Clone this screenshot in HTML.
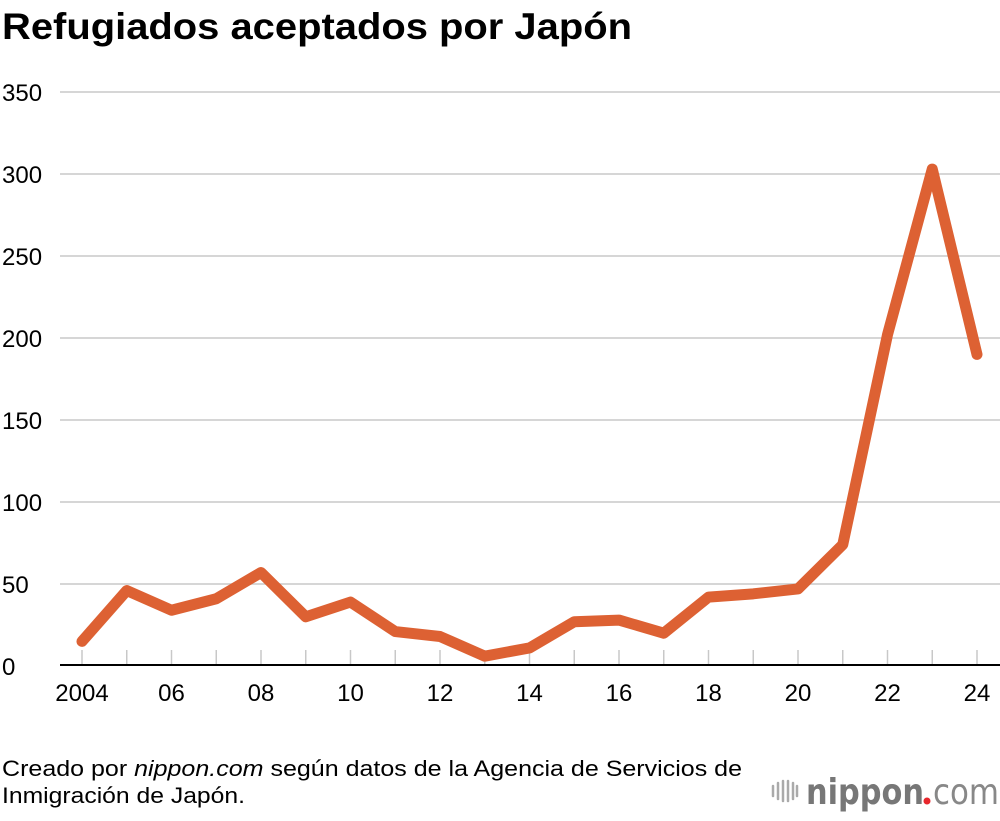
<!DOCTYPE html>
<html><head><meta charset="utf-8"><style>
body{margin:0;background:#fff;width:1000px;height:816px;overflow:hidden;font-family:"Liberation Sans",sans-serif}
</style></head><body>
<svg width="1000" height="816" xmlns="http://www.w3.org/2000/svg" id="svg">
<text x="2" y="39" font-size="37" font-weight="bold" fill="#000" textLength="630" lengthAdjust="spacingAndGlyphs">Refugiados aceptados por Japón</text>
<g id="grid"></g><g id="xaxis"></g>
<path id="line" fill="none" stroke="#dd6133" stroke-width="11" stroke-linejoin="round" stroke-linecap="round"/>
<text x="2" y="776" font-size="22" fill="#000" textLength="740" lengthAdjust="spacingAndGlyphs">Creado por <tspan font-style="italic">nippon.com</tspan> según datos de la Agencia de Servicios de</text>
<text x="2" y="803" font-size="22" fill="#000" textLength="243" lengthAdjust="spacingAndGlyphs">Inmigración de Japón.</text>
<g>
<g stroke="#aaa" stroke-width="2.5" stroke-linecap="round">
<line x1="773" y1="786" x2="773" y2="796"/><line x1="778" y1="783" x2="778" y2="799"/><line x1="783" y1="781" x2="783" y2="801"/><line x1="788" y1="781" x2="788" y2="801"/><line x1="793" y1="783" x2="793" y2="799"/><line x1="797" y1="786" x2="797" y2="796"/></g>
<text x="806" y="804" font-size="36" font-family="DejaVu Sans,sans-serif" font-weight="bold" fill="#777" textLength="118" lengthAdjust="spacingAndGlyphs">nippon</text>
<circle cx="927" cy="801" r="3.5" fill="#e8262c"/>
<text x="933" y="804" font-size="36" font-family="DejaVu Sans,sans-serif" fill="#888" textLength="66" lengthAdjust="spacingAndGlyphs">com</text>
</g>
</svg>
<script>
const years=[2004,2005,2006,2007,2008,2009,2010,2011,2012,2013,2014,2015,2016,2017,2018,2019,2020,2021,2022,2023,2024];
const values=[15,46,34,41,57,30,39,21,18,6,11,27,28,20,42,44,47,74,202,303,190];
const yTicks=[0,50,100,150,200,250,300,350];
const xLabels=["2004","06","08","10","12","14","16","18","20","22","24"];
const ns="http://www.w3.org/2000/svg";
const X=y=>82+(y-2004)*(977-82)/20;
const Y=v=>666-v*(666-92)/350;
function mk(t,a,p,txt){const e=document.createElementNS(ns,t);for(const k in a)e.setAttribute(k,a[k]);if(txt!=null)e.textContent=txt;p.appendChild(e);return e;}
const g=document.getElementById('grid'),xa=document.getElementById('xaxis');
yTicks.forEach(v=>{
 if(v>0){const l=mk('line',{x1:60,x2:1000,y1:Y(v),y2:Y(v),stroke:'#c8c8c8','stroke-width':1.5},g);
 
 }
 const t=mk('text',{x:2,y:Y(v)+9,'font-size':24,fill:'#000'},g,String(v));
 
 
});
years.forEach(y=>{
 const l=mk('line',{x1:X(y),x2:X(y),y1:650,y2:666,stroke:'#c8c8c8','stroke-width':1.5},xa);
 
 
});
const ax=mk('line',{x1:60,x2:1000,y1:665,y2:665,stroke:'#000','stroke-width':2},xa);


xLabels.forEach((s,i)=>{
 const t=mk('text',{x:X(2004+i*2),y:701,'font-size':24,fill:'#000','text-anchor':'middle'},xa,s);
 
 
});
document.getElementById('line').setAttribute('d',years.map((y,i)=>(i?'L':'M')+X(y)+','+Y(values[i])).join(''));
</script>
</body></html>
